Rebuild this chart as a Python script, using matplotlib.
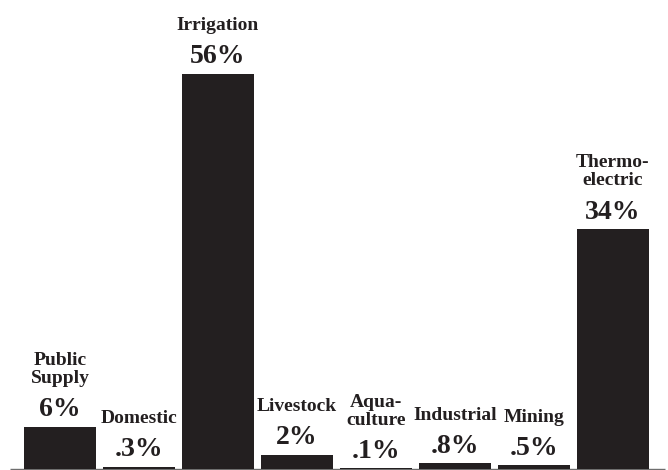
import matplotlib
matplotlib.use("Agg")
import matplotlib.pyplot as plt

# Water withdrawals by category (percent of total)
categories = ["Public\nSupply", "Domestic", "Irrigation", "Livestock",
              "Aqua-\nculture", "Industrial", "Mining", "Thermo-\nelectric"]
shares = [6, 0.3, 56, 2, 0.1, 0.8, 0.5, 34]
share_labels = ["6%", ".3%", "56%", "2%", ".1%", ".8%", ".5%", "34%"]

W, H, DPI = 668, 470, 100
ink = "#231f20"
serif = ["Liberation Serif", "DejaVu Serif"]

fig = plt.figure(figsize=(W / DPI, H / DPI), dpi=DPI)
fig.patch.set_facecolor("white")

# Axes spans the baseline region; x in category units, y in percent
left_px, right_px, bottom_px = 10, 668, 1
ax = fig.add_axes([left_px / W, bottom_px / H, (right_px - left_px) / W, (H - bottom_px) / H])
step = 79.0
x0 = 60.0
ax.set_xlim((left_px - x0) / step, (right_px - x0) / step)
ax.set_ylim(0, (H - bottom_px) / 7.06)
ax.axis("off")

xs = list(range(len(categories)))
ax.bar(xs, shares, width=72 / step, color=ink, zorder=2)

# thin grey baseline
ax.plot([(left_px - x0) / step, (665 - x0) / step], [0, 0], color="#6e6e6e",
        lw=1.0, solid_capstyle="butt", zorder=1, clip_on=False)

for x, v, name, lab in zip(xs, shares, categories, share_labels):
    ax.annotate(lab, (x, v), xytext=(0, 7.5), textcoords="offset points",
                ha="center", va="baseline", fontsize=20, fontweight="bold",
                family=serif, color=ink)
    ax.annotate(name, (x, v), xytext=(0, 7.5 + 23.8), textcoords="offset points",
                ha="center", va="baseline", fontsize=14, fontweight="bold",
                family=serif, color=ink, linespacing=1.1,
                multialignment="center")

fig.savefig("out.png", dpi=DPI, facecolor="white")
